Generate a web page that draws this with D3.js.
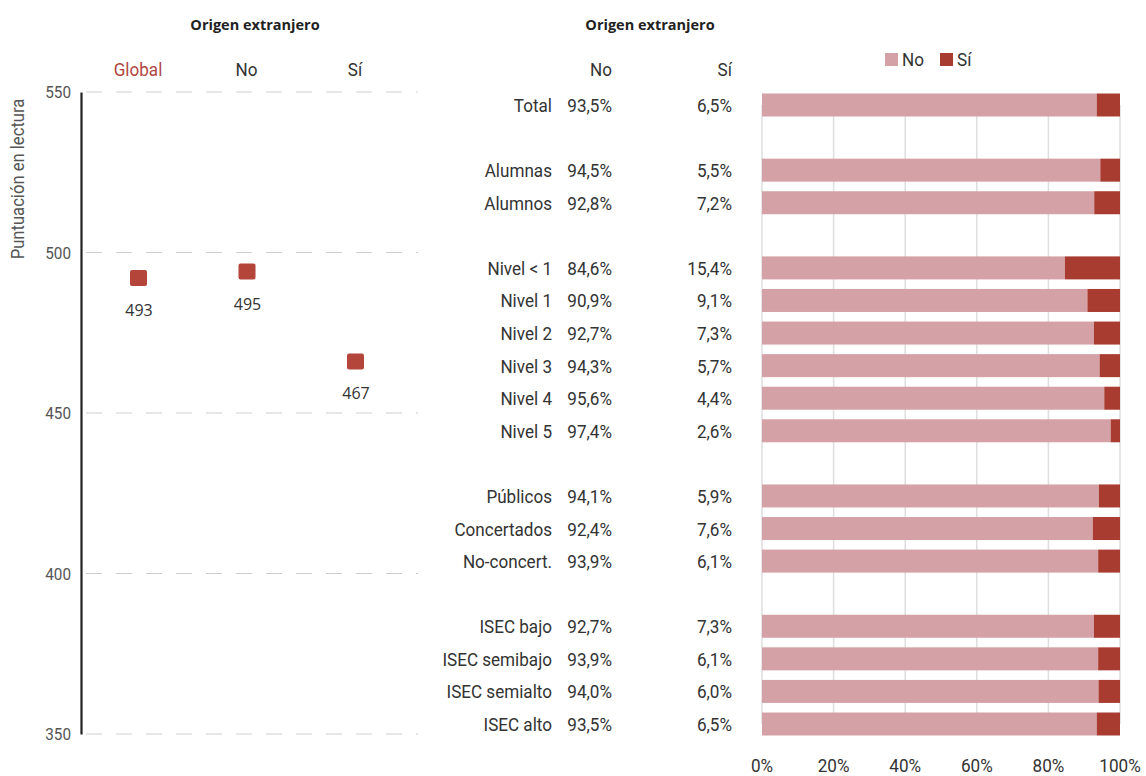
<!DOCTYPE html>
<html><head><meta charset="utf-8">
<script src="https://cdn.jsdelivr.net/npm/d3@7/dist/d3.min.js"></script>
<style>
body{margin:0;background:#fff;}
svg{display:block;}
</style></head>
<body><svg id="chart" width="1146" height="776"></svg>
<script>
// ---- data ----
const scoreCats = ["Global", "No", "Sí"];
const scoreValues = [493, 495, 467];
const scoreTicks = [350, 400, 450, 500, 550];

const rowLabels = ["Total", "Alumnas", "Alumnos", "Nivel < 1", "Nivel 1", "Nivel 2", "Nivel 3", "Nivel 4", "Nivel 5",
  "Públicos", "Concertados", "No-concert.", "ISEC bajo", "ISEC semibajo", "ISEC semialto", "ISEC alto"];
const rowGroup = [0, 1, 1, 2, 2, 2, 2, 2, 2, 3, 3, 3, 4, 4, 4, 4];
const noPct = [93.5, 94.5, 92.8, 84.6, 90.9, 92.7, 94.3, 95.6, 97.4, 94.1, 92.4, 93.9, 92.7, 93.9, 94.0, 93.5];
const siPct = [6.5, 5.5, 7.2, 15.4, 9.1, 7.3, 5.7, 4.4, 2.6, 5.9, 7.6, 6.1, 7.3, 6.1, 6.0, 6.5];
const pctTicks = [0, 20, 40, 60, 80, 100];
const seriesNames = ["No", "Sí"];

// ---- style ----
const cNo = "#d4a1a7", cSi = "#a93c30", cMark = "#b4453a", cText = "#333", cGrey = "#555";
const condFont = "Roboto, 'Noto Sans', sans-serif";
const SX = 0.9; // horizontal condensation
const fmt = v => d3.format(".1f")(v).replace(".", ",") + "%";

const svg = d3.select("#chart");

// condensed text helper
function ctext(parent, x, y, txt, opts = {}) {
  const g = parent.append("g").attr("transform", `translate(${x},${y}) scale(${opts.sx || SX},1)`);
  g.append("text").attr("text-anchor", opts.anchor || "end")
    .attr("font-family", condFont).attr("font-size", opts.size || 19)
    .attr("fill", opts.fill || cText).attr("dy", opts.dy || 0).text(txt);
  return g;
}

// ===== Left panel =====
const yS = d3.scaleLinear().domain([350, 550]).range([734, 92]);
const xS = d3.scalePoint().domain(scoreCats).range([138, 355]);

svg.append("text").attr("x", 255).attr("y", 30).attr("text-anchor", "middle")
  .attr("font-family", "Open Sans, sans-serif").attr("font-weight", "bold").attr("font-size", 14.5)
  .attr("fill", "#222").text("Origen extranjero");

scoreCats.forEach((d, i) => ctext(svg, xS(d), 76, d, { anchor: "middle", fill: i === 0 ? "#b0453f" : cText }));

// gridlines
svg.append("g").selectAll("line").data(scoreTicks).join("line")
  .attr("x1", 86).attr("x2", 418).attr("y1", d => yS(d)).attr("y2", d => yS(d))
  .attr("stroke", "#cfcfcf").attr("stroke-width", 1.2).attr("stroke-dasharray", "16,14");

const yAxis = svg.append("g").attr("transform", "translate(81,0)")
  .call(d3.axisLeft(yS).tickValues(scoreTicks).tickSize(0).tickFormat(""));
yAxis.select(".domain").attr("stroke", "#222").attr("stroke-width", 2.2);
scoreTicks.forEach(t => ctext(svg, 71, yS(t) + 6, t, { size: 17, fill: cGrey }));

svg.append("g").attr("transform", "translate(24,179) rotate(-90) scale(0.9,1)")
  .append("text").attr("text-anchor", "middle").attr("font-family", condFont)
  .attr("font-size", 18.5).attr("fill", cGrey).text("Puntuación en lectura");

svg.selectAll(".mark").data(scoreValues).join("rect")
  .attr("x", (d, i) => xS(scoreCats[i]) - 8).attr("y", d => yS(d) - 5)
  .attr("width", 17).attr("height", 16).attr("rx", 2).attr("fill", cMark);

svg.selectAll(".mlab").data(scoreValues).join("text")
  .attr("x", (d, i) => xS(scoreCats[i]) + 1).attr("y", d => yS(d) + 41)
  .attr("text-anchor", "middle").attr("font-family", "Open Sans, sans-serif")
  .attr("font-size", 16).attr("fill", cText).text(d => d);

// ===== Right panel =====
const slot = rowLabels.map((d, i) => i + rowGroup[i]);
const rY = d3.scaleLinear().domain([0, 19]).range([105, 724]);
const bX = d3.scaleLinear().domain([0, 100]).range([762, 1120]);
const barH = 23;

svg.append("text").attr("x", 650).attr("y", 30).attr("text-anchor", "middle")
  .attr("font-family", "Open Sans, sans-serif").attr("font-weight", "bold").attr("font-size", 14.5)
  .attr("fill", "#222").text("Origen extranjero");

ctext(svg, 612, 76, seriesNames[0]);
ctext(svg, 732, 76, seriesNames[1]);

// vertical gridlines
svg.append("g").selectAll("line").data(pctTicks).join("line")
  .attr("x1", d => bX(d)).attr("x2", d => bX(d)).attr("y1", rY(0)).attr("y2", rY(19))
  .attr("stroke", "#dedede").attr("stroke-width", 1.5);

const rows = svg.append("g").selectAll("g").data(rowLabels).join("g")
  .attr("transform", (d, i) => `translate(0,${rY(slot[i])})`);

rows.each(function (d, i) {
  const r = d3.select(this);
  ctext(r, 552, 7, d);
  ctext(r, 612, 7, fmt(noPct[i]));
  ctext(r, 732, 7, fmt(siPct[i]));
});

rows.append("rect").attr("x", bX(0)).attr("y", -barH / 2)
  .attr("width", (d, i) => bX(noPct[i]) - bX(0)).attr("height", barH).attr("fill", cNo);
rows.append("rect").attr("x", (d, i) => bX(noPct[i])).attr("y", -barH / 2)
  .attr("width", (d, i) => bX(noPct[i] + siPct[i]) - bX(noPct[i])).attr("height", barH).attr("fill", cSi);

// x axis labels
pctTicks.forEach(t => ctext(svg, bX(t), 772, t + "%", { anchor: "middle" }));

// legend
const legX = [885, 940];
seriesNames.forEach((s, i) => {
  svg.append("rect").attr("x", legX[i]).attr("y", 53).attr("width", 13).attr("height", 13)
    .attr("fill", i === 0 ? cNo : cSi);
  ctext(svg, legX[i] + 17, 66, s, { anchor: "start" });
});
</script></body></html>
